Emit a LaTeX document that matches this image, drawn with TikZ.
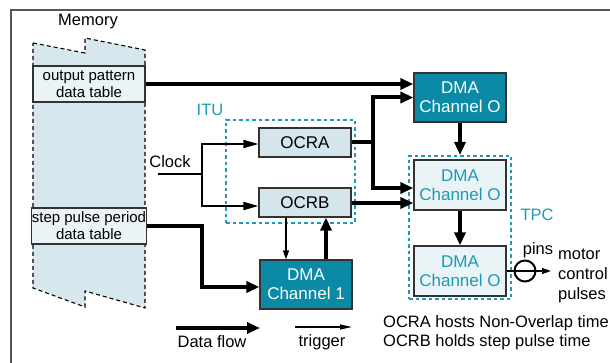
\documentclass[tikz,border=0pt]{standalone}
\usepackage{fontspec}
\setmainfont{Liberation Sans}
\usetikzlibrary{arrows.meta,calc}
\definecolor{tealdark}{HTML}{0A8AA5}
\definecolor{tealtext}{HTML}{1E9AB4}
\definecolor{memfill}{HTML}{D7E7EE}
\definecolor{regfill}{HTML}{D5E5EC}
\definecolor{palefill}{HTML}{EAF3F6}
\definecolor{framegray}{HTML}{555555}
\tikzset{
  txt/.style={font=\fontsize{16.5}{19}\selectfont, inner sep=0pt},
  tablebox/.style={draw=black!80, line width=1.2pt, fill=palefill, minimum width=112pt,
    minimum height=36pt, align=center, font=\fontsize{15}{17}\selectfont, inner sep=0pt},
  regbox/.style={draw=black!80, line width=1.2pt, fill=regfill, minimum width=92pt,
    minimum height=29pt, font=\fontsize{17}{19}\selectfont, inner sep=0pt},
  dmabox/.style={draw=black!80, line width=1.2pt, fill=tealdark, text=white, minimum width=92pt,
    minimum height=49pt, align=center, font=\fontsize{17}{19}\selectfont, inner sep=0pt},
  dmapale/.style={dmabox, fill=palefill, text=tealtext, minimum height=50pt},
  groupbox/.style={draw=tealtext, line width=2pt, dash pattern=on 3.5pt off 3pt, inner sep=0pt},
  flow/.style={line width=4pt, -{Triangle[length=13pt,width=11pt]}},
  flowline/.style={line width=4pt},
  trig/.style={line width=1.3pt, -{Triangle[length=9pt,width=6pt]}},
  clk/.style={line width=2pt, -{Triangle[length=15pt,width=8pt]}},
}
\begin{document}
\begin{tikzpicture}[x=1pt,y=-1pt]
\useasboundingbox (0,0) rectangle (610,363);

% outer frame (top and left edges)
\draw[line width=1.5pt, framegray] (11,363) -- (11,10) -- (610,10);

% memory column with torn ends
\node[txt] (memlabel) at (88,22) {Memory};
\fill[memfill] (33,43) -- (85,53) -- (85,38) -- (145,50) -- (145,308) -- (85,291) -- (85,307) -- (33,288) -- cycle;
\draw[line width=1.1pt, dash pattern=on 4pt off 3pt] (33,43) -- (85,53) -- (85,38) -- (145,50) -- (145,308) -- (85,291) -- (85,307) -- (33,288) -- cycle;
\node[tablebox] (outtab) at (89,84) {output pattern\\data table};
\node[tablebox] (steptab) at (89,226) {step pulse period\\data table};

% ITU group
\node[groupbox, minimum width=129pt, minimum height=103pt] (itu) at (290.5,171.5) {};
\node[txt, text=tealtext] (itulabel) at (210,110) {ITU};
\node[regbox] (ocra) at (305,142.5) {OCRA};
\node[regbox] (ocrb) at (305,202.5) {OCRB};

% TPC group
\node[groupbox, minimum width=102pt, minimum height=143pt] (tpc) at (460,227.5) {};
\node[txt, text=tealtext] (tpclabel) at (537,215) {TPC};

% DMA channels
\node[dmabox] (dmatop) at (460,97.5) {DMA\\Channel O};
\node[dmapale] (dmamid) at (460,185) {DMA\\Channel O};
\node[dmapale] (dmabot) at (460,271) {DMA\\Channel O};
\node[dmabox] (dma1) at (306,284.5) {DMA\\Channel 1};

% clock input
\node[txt] (clock) at (170,162) {Clock};
\coordinate (clkin) at (158,174);
\coordinate (clksplit) at (202,174);
\draw[line width=2pt] (clkin) -- (clksplit);
\draw[clk] (clksplit) |- ($(ocra.west)+(0,1.5)$);
\draw[clk] (clksplit) |- ($(ocrb.west)+(0,3.5)$);

% data flow
\draw[flow] (outtab.east) -- (outtab.east -| dmatop.west);
\coordinate (asplit) at ($(ocra.east)+(21,0)$);
\coordinate (mida) at ($(dmamid.west)+(0,3)$);
\coordinate (midb) at ($(dmamid.west)+(0,18)$);
\draw[flowline] (ocra.east) -- (asplit);
\draw[flow, line join=miter] (asplit) |- (dmatop.west);
\draw[flow, line join=miter] (asplit) |- (mida);
\draw[flow] (ocrb.east |- midb) -- (midb);
\draw[flow] (dmatop.south) -- (tpc.north);
\draw[flow] (dmamid.south) -- (dmabot.north);
\coordinate (stepbend) at (202,287);
\draw[flow, line join=miter] (steptab.east) -| (stepbend) -- (stepbend -| dma1.west);

% trigger paths between OCRB and DMA channel 1
\draw[trig] ($(ocrb.south)+(-19,0)$) -- ($(dma1.north)+(-20,0)$);
\draw[flow] ($(dma1.north)+(20,0)$) -- ($(ocrb.south)+(21,0)$);

% output pins
\node[circle, draw, line width=2pt, minimum size=21pt, inner sep=0pt] (pin) at (525,271) {};
\coordinate (pout) at (551,271);
\draw[trig] (dmabot.east) -- (pout);
\node[txt] (pinslabel) at (538,250) {pins};
\node[txt, anchor=west, align=left, font=\fontsize{16.5}{20}\selectfont] (motor) at (558,276) {motor\\control\\pulses};

% legend
\coordinate (lflowa) at (176,328);
\coordinate (lflowb) at (260,328);
\draw[flow] (lflowa) -- (lflowb);
\node[txt] (lflowtxt) at (212,342) {Data flow};
\coordinate (ltriga) at (295,327);
\coordinate (ltrigb) at (352,327);
\draw[line width=1.3pt, -{Triangle[length=12pt,width=5pt]}] (ltriga) -- (ltrigb);
\node[txt] (ltrigtxt) at (322,342) {trigger};
\node[txt, anchor=west, align=left, font=\fontsize{16.5}{19}\selectfont] (note) at (383,333) {OCRA hosts Non-Overlap time\\OCRB holds step pulse time};
\end{tikzpicture}
\end{document}
